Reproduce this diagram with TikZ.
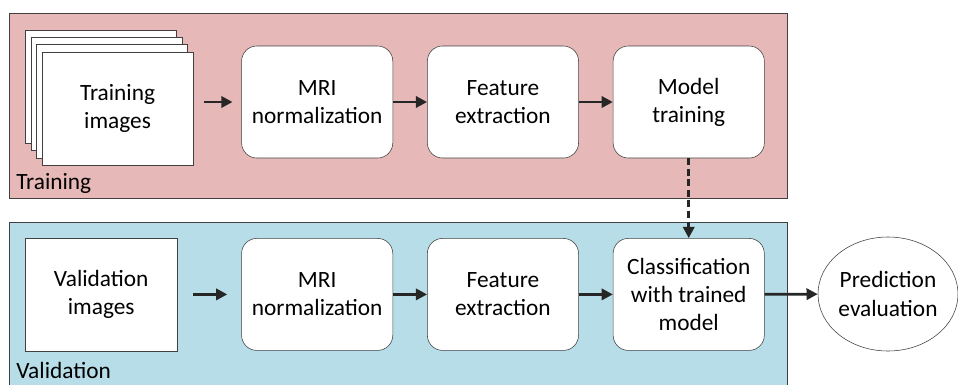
\documentclass[tikz,border=0pt]{standalone}
\usepackage{fontspec}
\setmainfont{Carlito}
\usetikzlibrary{positioning,arrows.meta,shapes.geometric}
\definecolor{trainpink}{HTML}{E6B9B8}
\definecolor{validblue}{HTML}{B7DEE8}
\definecolor{edgegray}{HTML}{404040}
\tikzset{
  stepbox/.style={rectangle, rounded corners=0.38cm, draw=edgegray, fill=white, minimum height=2.8cm, minimum width=3.78cm, align=center, inner sep=2pt},
  sheet/.style={rectangle, draw=edgegray, fill=white, minimum height=2.83cm, minimum width=3.78cm, align=center},
  flow/.style={-{Triangle[length=0.28cm, width=0.28cm]}, line width=2pt, draw=black!85},
}
\begin{document}
\begin{tikzpicture}[font=\fontsize{16.6}{20}\selectfont]
  \useasboundingbox (0,0) rectangle (23.95,-9.6);
  % Panels
  \draw[edgegray, fill=trainpink] (0.24,-0.34) rectangle (19.68,-4.95);
  \draw[edgegray, fill=validblue] (0.24,-5.56) rectangle (19.68,-9.9);
  \node (trainlbl) [anchor=west, inner sep=0pt] at (0.4,-4.58) {Training};
  \node (validlbl) [anchor=west, inner sep=0pt] at (0.4,-9.27) {Validation};
  % Training row
  \foreach \k in {3,2,1}
    \node (sheet\k) [sheet] at (2.94-0.14*\k, -2.71+0.18*\k) {};
  \node (trimg) [sheet] at (2.94,-2.71) {Training\\images};
  \node (mriT) [stepbox] at (7.93,-2.55) {MRI\\normalization};
  \node (featT) [stepbox, right=0.85cm of mriT] {Feature\\extraction};
  \node (modT) [stepbox, right=0.85cm of featT] {Model\\training};
  % Validation row
  \node (valimg) [sheet] at (2.53,-7.36) {Validation\\images};
  \node (mriV) [stepbox] at (7.93,-7.36) {MRI\\normalization};
  \node (featV) [stepbox, right=0.85cm of mriV] {Feature\\extraction};
  \node (clsV) [stepbox, right=0.85cm of featV] {Classification\\with trained\\model};
  \node (pred) [ellipse, draw=edgegray, fill=white, minimum width=3.5cm, minimum height=2.85cm, align=center, inner sep=0pt] at (22.2,-7.35) {Prediction\\evaluation};
  % Arrows
  \draw[flow, shorten <=0.27cm, shorten >=0.22cm] (trimg.east |- mriT.west) -- (mriT.west);
  \draw[flow] (mriT) -- (featT);
  \draw[flow] (featT) -- (modT);
  \draw[flow, dash pattern=on 5pt off 2.5pt] (modT) -- (clsV);
  \draw[flow, shorten <=0.4cm, shorten >=0.35cm] (valimg) -- (mriV);
  \draw[flow] (mriV) -- (featV);
  \draw[flow] (featV) -- (clsV);
  \draw[flow] (clsV) -- (pred);
\end{tikzpicture}
\end{document}
